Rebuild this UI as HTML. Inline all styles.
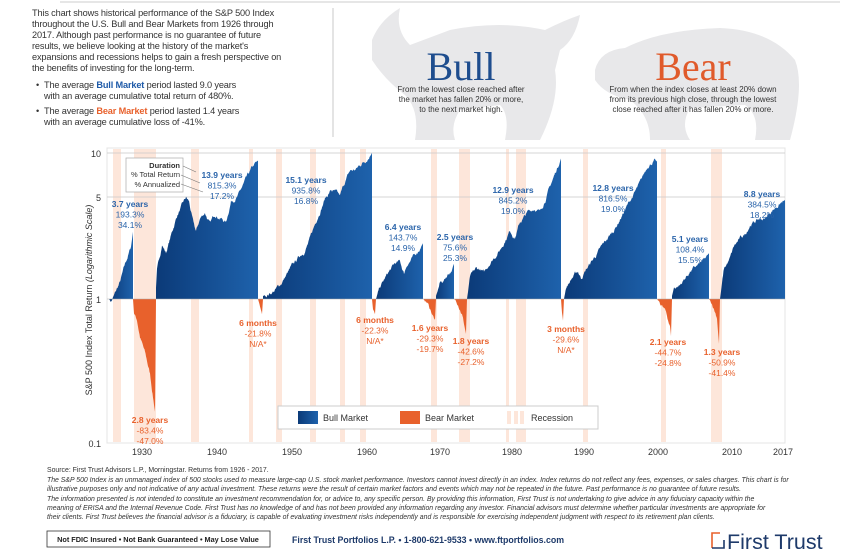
<!DOCTYPE html>
<html><head><meta charset="utf-8"><style>
html,body{margin:0;padding:0;background:#fff;}
body{width:852px;height:560px;position:relative;overflow:hidden;font-family:"Liberation Sans",sans-serif;}
.intro{position:absolute;left:32px;top:8px;font-size:9.2px;line-height:11px;color:#333;white-space:nowrap;letter-spacing:-0.15px;}
.intro .b{position:relative;padding-left:12px;margin-top:4px;}
.intro .b:before{content:"•";position:absolute;left:4px;}
.fn{position:absolute;left:47px;font-size:6.9px;color:#333;white-space:nowrap;}
.it{font-style:italic;}
</style></head><body>
<svg width="852" height="560" style="position:absolute;left:0;top:0" xmlns="http://www.w3.org/2000/svg">
<defs>
<linearGradient id="bg" x1="0" y1="0" x2="1" y2="0"><stop offset="0" stop-color="#0b3a78"/><stop offset="1" stop-color="#1e62ac"/></linearGradient>
</defs>
<line x1="60" y1="2" x2="840" y2="2" stroke="#ddd" stroke-width="1.5"/>
<path d="M372 40 Q380 20 400 8 Q395 30 410 45 L450 30 Q500 20 545 30 Q565 20 580 15 Q575 40 560 50 L555 70 Q560 100 540 140 L505 140 Q510 115 500 105 L460 110 Q450 125 455 140 L415 140 Q420 110 405 95 Q385 80 372 60 Z" fill="#e8e8ea"/>
<path d="M595 70 Q600 50 625 48 Q660 30 720 28 Q770 30 795 60 Q805 85 790 140 L755 140 Q760 115 745 105 L690 108 Q680 125 690 140 L650 140 Q650 115 630 100 Q605 95 595 80 Z" fill="#e8e8ea"/>
<line x1="333" y1="8" x2="333" y2="137" stroke="#bbb" stroke-width="0.8"/>
<text x="461" y="80" font-family="Liberation Serif,serif" font-size="40" fill="#1e4d8e" text-anchor="middle">Bull</text>
<text x="693" y="80" font-family="Liberation Serif,serif" font-size="40" fill="#e05a2b" text-anchor="middle">Bear</text>
<g font-size="8" fill="#333" text-anchor="middle">
<text x="461" y="92">From the lowest close reached after</text>
<text x="461" y="102">the market has fallen 20% or more,</text>
<text x="461" y="112">to the next market high.</text>
<text x="693" y="92">From when the index closes at least 20% down</text>
<text x="693" y="102">from its previous high close, through the lowest</text>
<text x="693" y="112">close reached after it has fallen 20% or more.</text>
</g>
<rect x="107" y="148" width="678" height="295" fill="#fff" stroke="#e4e4e4"/>
<g id="rec" fill="#fde6da"></g>
<line x1="107" y1="153" x2="785" y2="153" stroke="#c8c8c8" stroke-width="0.8"/>
<line x1="107" y1="197" x2="785" y2="197" stroke="#c8c8c8" stroke-width="0.8"/>
<g id="series"></g>
<line x1="107" y1="299" x2="785" y2="299" stroke="#aaa" stroke-width="0.6"/>
<g font-size="9" fill="#333" text-anchor="end">
<text x="101" y="157">10</text><text x="101" y="201">5</text><text x="101" y="303">1</text><text x="101" y="447">0.1</text>
</g>
<g font-size="9" fill="#333" text-anchor="middle">
<text x="142" y="455">1930</text><text x="217" y="455">1940</text><text x="292" y="455">1950</text><text x="367" y="455">1960</text><text x="440" y="455">1970</text><text x="512" y="455">1980</text><text x="584" y="455">1990</text><text x="658" y="455">2000</text><text x="732" y="455">2010</text><text x="783" y="455">2017</text>
</g>
<text transform="translate(92,300) rotate(-90)" font-size="9" fill="#333" text-anchor="middle">S&amp;P 500 Index Total Return <tspan font-style="italic">(Logarithmic Scale)</tspan></text>
<rect x="126" y="158" width="57" height="34" fill="#fff" stroke="#aaa" stroke-width="0.7"/>
<g font-size="7.5" fill="#333" text-anchor="end">
<text x="180" y="168" font-weight="bold">Duration</text><text x="180" y="177">% Total Return</text><text x="180" y="187">% Annualized</text>
</g>
<g stroke="#777" stroke-width="0.6"><line x1="183" y1="166" x2="196" y2="172"/><line x1="181" y1="175" x2="200" y2="183"/><line x1="181" y1="184" x2="203" y2="192"/></g>
<g id="ann" font-size="8.5" text-anchor="middle"></g>
<rect x="278" y="406" width="320" height="23" fill="#fff" stroke="#ccc"/>
<rect x="298" y="411" width="20" height="13" fill="url(#bg)"/>
<text x="323" y="421" font-size="9" fill="#333">Bull Market</text>
<rect x="400" y="411" width="20" height="13" fill="#e8612c"/>
<text x="425" y="421" font-size="9" fill="#333">Bear Market</text>
<rect x="507" y="411" width="4" height="13" fill="#fde6da"/><rect x="514" y="411" width="4" height="13" fill="#fde6da"/><rect x="520" y="411" width="4" height="13" fill="#fde6da"/>
<text x="531" y="421" font-size="9" fill="#333">Recession</text>
<rect x="47" y="531" width="223" height="16" fill="#fff" stroke="#333" stroke-width="0.8"/>
<text x="158" y="542" font-size="7.3" font-weight="bold" fill="#222" text-anchor="middle">Not FDIC Insured • Not Bank Guaranteed • May Lose Value</text>
<text x="292" y="543" font-size="8.8" font-weight="bold" fill="#1e3a6a">First Trust Portfolios L.P. • 1-800-621-9533 • www.ftportfolios.com</text>
<path d="M712 548 L712 533 L720 533" stroke="#e8612c" stroke-width="1.6" fill="none"/>
<path d="M712 548 L724 548 L724 540" stroke="#1e3a6a" stroke-width="1.6" fill="none"/>
<text x="727" y="549" font-size="21.5" fill="#1e3a6a">First Trust</text>
</svg>
<div class="intro">This chart shows historical performance of the S&amp;P 500 Index<br>throughout the U.S. Bull and Bear Markets from 1926 through<br>2017. Although past performance is no guarantee of future<br>results, we believe looking at the history of the market's<br>expansions and recessions helps to gain a fresh perspective on<br>the benefits of investing for the long-term.
<div class="b" style="margin-top:6px">The average <b style="color:#1e5aa8">Bull Market</b> period lasted 9.0 years<br>with an average cumulative total return of 480%.</div>
<div class="b">The average <b style="color:#e8612c">Bear Market</b> period lasted 1.4 years<br>with an average cumulative loss of -41%.</div></div>
<div class="fn" style="top:467px">Source: First Trust Advisors L.P., Morningstar. Returns from 1926 - 2017.</div>
<div class="fn it" style="top:477px">The S&amp;P 500 Index is an unmanaged index of 500 stocks used to measure large-cap U.S. stock market performance. Investors cannot invest directly in an index. Index returns do not reflect any fees, expenses, or sales charges. This chart is for</div>
<div class="fn it" style="top:486px">illustrative purposes only and not indicative of any actual investment. These returns were the result of certain market factors and events which may not be repeated in the future. Past performance is no guarantee of future results.</div>
<div class="fn it" style="top:496px">The information presented is not intended to constitute an investment recommendation for, or advice to, any specific person. By providing this information, First Trust is not undertaking to give advice in any fiduciary capacity within the</div>
<div class="fn it" style="top:505px">meaning of ERISA and the Internal Revenue Code. First Trust has no knowledge of and has not been provided any information regarding any investor. Financial advisors must determine whether particular investments are appropriate for</div>
<div class="fn it" style="top:514px">their clients. First Trust believes the financial advisor is a fiduciary, is capable of evaluating investment risks independently and is responsible for exercising independent judgment with respect to its retirement plan clients.</div>
<script>
var NS="http://www.w3.org/2000/svg";
function el(t,a,p){var e=document.createElementNS(NS,t);for(var k in a)e.setAttribute(k,a[k]);p.appendChild(e);return e;}
var rec=[[113,121],[134,156],[191,199],[249,253],[276,282],[310,316],[340,345],[360,366],[431,437],[459,470],[506,509],[516,526],[583,588],[661,666],[711,722]];
var rg=document.getElementById('rec');
rec.forEach(function(r){el('rect',{x:r[0],y:149,width:r[1]-r[0],height:293},rg);});
function Y(v){return 299-144*Math.log10(v);}
var seed=7;function rnd(){seed=(seed*16807)%2147483647;return seed/2147483647;}
var segs=[
['b',[[109,1],[111,0.96],[114,1.05],[120,1.3],[126,1.8],[131,2.3],[133,2.93]]],
['r',[[133,1],[134,0.8],[137,0.72],[140,0.55],[145,0.42],[150,0.3],[155,0.166],[156,1]]],
['b',[[156,1.2],[157,1.6],[160,2.0],[162,2.4],[166,2.1],[170,2.6],[177,3.8],[186,5.0],[189,4.7],[193,3.4],[196,2.9],[200,3.6],[205,4.0],[210,3.3],[215,3.9],[222,3.6],[226,3.4],[231,4.8],[238,5.2],[245,6.5],[252,8],[258,9.15]]],
['r',[[258,1],[261,0.85],[262,0.78],[263,1]]],
['b',[[263,1.05],[270,1.1],[275,1.15],[280,1.25],[290,1.6],[300,2.0],[305,2.2],[310,2.6],[318,3.8],[325,5.0],[331,5.7],[335,5.5],[340,5.1],[345,6.5],[350,7.7],[356,7.9],[360,8.5],[366,9.3],[372,10.36]]],
['r',[[372,1],[373,0.85],[375,0.777],[376,1]]],
['b',[[376,1.0],[380,1.2],[388,1.5],[395,1.75],[400,1.8],[404,1.5],[407,1.75],[415,2.0],[423,2.44]]],
['r',[[423,1],[427,0.95],[432,0.8],[435,0.707],[436,1]]],
['b',[[436,1.05],[440,1.3],[444,1.35],[448,1.5],[452,1.6],[454,1.756]]],
['r',[[454,1],[458,0.95],[462,0.8],[466,0.574],[467,1]]],
['b',[[467,1.0],[470,1.4],[476,1.6],[480,1.6],[484,1.5],[490,1.8],[500,2.2],[510,3.0],[515,2.7],[520,3.4],[528,4.0],[535,4.3],[540,4.0],[550,6.0],[561,9.45]]],
['r',[[561,1],[562,0.8],[563,0.704],[564,1]]],
['b',[[564,1.0],[566,1.2],[572,1.4],[578,1.55],[581,1.4],[586,1.6],[600,2.2],[615,3.1],[630,4.8],[640,6.3],[648,8.5],[654,9.17],[657,9.0]]],
['r',[[657,1],[662,0.9],[666,0.8],[670,0.65],[671,0.553],[672,1]]],
['b',[[672,1.05],[674,1.2],[680,1.25],[690,1.55],[700,1.75],[706,1.9],[709,2.08]]],
['r',[[709,1],[713,0.9],[717,0.75],[719,0.491],[720,1]]],
['b',[[720,1.0],[724,1.6],[730,1.9],[734,2.3],[740,2.6],[745,2.8],[750,3.3],[760,3.6],[765,3.6],[770,4.0],[778,4.5],[785,4.845]]]
];
var sg=document.getElementById('series');
segs.forEach(function(s){
 var k=s[1],x0=k[0][0],x1=k[k.length-1][0];
 var d='M'+x0+' 299',n=0;
 for(var x=x0;x<=x1+0.01;x+=0.5){
  var i=0;while(i<k.length-2&&k[i+1][0]<x)i++;
  var a=k[i],b=k[i+1],t=(b[0]==a[0])?0:(x-a[0])/(b[0]-a[0]);t=Math.max(0,Math.min(1,t));
  var lv=Math.log10(a[1])*(1-t)+Math.log10(b[1])*t;
  n=n*0.85+(rnd()-0.5)*0.02;
  var env=Math.min(1,(x-x0)/3,(x1-x)/3);if(env<0)env=0;
  d+=' L'+x.toFixed(1)+' '+Y(Math.pow(10,lv+n*env)).toFixed(1);
 }
 d+=' L'+x1+' 299Z';
 el('path',{d:d,fill:s[0]=='b'?'url(#bg)':'#e8612c'},sg);
});
var ann=[
['b',130,204,'3.7 years','193.3%','34.1%'],['b',222,175,'13.9 years','815.3%','17.2%'],['b',306,180,'15.1 years','935.8%','16.8%'],
['b',403,227,'6.4 years','143.7%','14.9%'],['b',455,237,'2.5 years','75.6%','25.3%'],['b',513,190,'12.9 years','845.2%','19.0%'],
['b',613,188,'12.8 years','816.5%','19.0%'],['b',690,239,'5.1 years','108.4%','15.5%'],['b',762,194,'8.8 years','384.5%','18.2%'],
['r',150,420,'2.8 years','-83.4%','-47.0%'],['r',258,323,'6 months','-21.8%','N/A*'],['r',375,320,'6 months','-22.3%','N/A*'],
['r',430,328,'1.6 years','-29.3%','-19.7%'],['r',471,341,'1.8 years','-42.6%','-27.2%'],['r',566,329,'3 months','-29.6%','N/A*'],
['r',668,342,'2.1 years','-44.7%','-24.8%'],['r',722,352,'1.3 years','-50.9%','-41.4%']];
var ag=document.getElementById('ann');
ann.forEach(function(a){
 var c=a[0]=='b'?'#2a64aa':'#e8612c';
 [3,4,5].forEach(function(j,i){var t=el('text',{x:a[1],y:a[2]+3+i*10.5,fill:c},ag);if(i==0)t.setAttribute('font-weight','bold');t.textContent=a[j];});
});
</script>
</body></html>
